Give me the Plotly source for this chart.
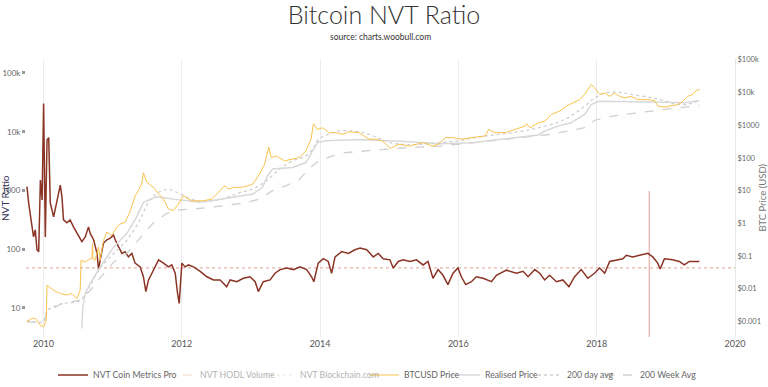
import plotly.graph_objects as go

# ---------------- data ----------------
nvt_dates = ["2009-10-06","2009-10-15","2009-11-02","2009-11-10","2009-11-19","2009-11-28","2009-12-07","2009-12-16","2009-12-25",
"2010-01-02","2010-01-11","2010-01-20","2010-01-29","2010-02-06","2010-02-24","2010-03-04","2010-03-22","2010-03-31","2010-04-09",
"2010-04-17","2010-05-05","2010-05-22","2010-06-09","2010-06-27","2010-07-14","2010-07-23","2010-08-10","2010-08-27","2010-09-05",
"2010-09-23","2010-10-11","2010-10-19","2010-10-28","2010-11-14","2010-12-02","2010-12-20","2011-01-06","2011-01-15","2011-02-02",
"2011-02-20","2011-03-08","2011-03-26","2011-04-13","2011-04-30","2011-05-27","2011-06-13","2011-06-26","2011-07-10","2011-07-28",
"2011-08-14","2011-09-01","2011-09-27","2011-10-23","2011-11-10","2011-11-28","2011-12-10","2011-12-19","2012-01-02","2012-01-19",
"2012-02-06","2012-03-04","2012-04-08","2012-05-13","2012-06-17","2012-07-22","2012-08-26","2012-09-13","2012-10-18","2012-11-22",
"2012-12-27","2013-01-23","2013-02-09","2013-03-07","2013-04-12","2013-05-08","2013-06-04","2013-07-09","2013-08-13","2013-09-17",
"2013-10-22","2013-11-17","2013-11-29","2013-12-22","2014-01-18","2014-02-13","2014-03-03","2014-03-21","2014-04-25","2014-05-30",
"2014-07-04","2014-07-31","2014-09-04","2014-10-09","2014-11-04","2014-11-30","2015-01-05","2015-01-22","2015-02-18","2015-03-16",
"2015-04-20","2015-05-25","2015-06-29","2015-07-25","2015-08-20","2015-09-16","2015-10-12","2015-11-07","2015-12-04","2015-12-30",
"2016-01-17","2016-02-09","2016-03-10","2016-04-05","2016-05-11","2016-06-24","2016-07-20","2016-09-11","2016-11-03","2016-12-08",
"2017-01-03","2017-02-08","2017-03-06","2017-04-01","2017-04-27","2017-06-02","2017-07-06","2017-08-07","2017-09-06","2017-10-11",
"2017-11-15","2017-12-20","2018-01-16","2018-02-12","2018-03-10","2018-04-14","2018-05-19","2018-06-06","2018-07-10","2018-08-15",
"2018-09-28","2018-10-24","2018-11-19","2018-12-02","2018-12-24","2019-02-06","2019-03-13","2019-04-08","2019-05-05","2019-05-31",
"2019-06-27"]
nvt_values = [1160,617,240,162,214,98,91,1510,690,
30200,162,7240,7940,617,355,468,891,1230,776,
316,282,316,240,186,145,135,162,240,186,
145,85,45,66,126,145,155,174,145,110,
85,91,74,85,58,50,34,19,30,39,
50,66,58,50,54,39,18,12,58,50,
54,50,42,34,30,30,23,30,28,32,
34,28,19,28,30,39,45,48,45,50,
45,34,28,58,69,62,39,74,91,85,
98,105,98,74,85,69,66,48,62,66,
62,66,54,62,32,45,36,25,39,48,
34,25,28,34,32,28,36,44,39,42,
34,45,39,30,36,28,30,23,34,45,
32,39,48,39,62,66,69,79,74,79,
85,74,58,46,69,66,62,54,62,62,
62]

price_dates = ["2009-10-06","2009-11-02","2009-11-19","2009-12-16","2010-01-02","2010-01-16","2010-01-20","2010-02-24","2010-03-31",
"2010-05-05","2010-05-31","2010-06-27","2010-07-14","2010-07-19","2010-08-10","2010-09-05","2010-09-14","2010-09-17","2010-09-20",
"2010-09-30","2010-10-19","2010-10-28","2010-11-14","2010-12-02","2010-12-28","2011-01-23","2011-02-09","2011-03-08","2011-04-02",
"2011-04-30","2011-05-17","2011-06-04","2011-06-13","2011-07-01","2011-08-05","2011-09-01","2011-09-27","2011-10-23","2011-11-18",
"2011-12-15","2012-01-10","2012-02-23","2012-04-24","2012-06-07","2012-07-12","2012-08-16","2012-09-02","2012-10-07","2012-11-11",
"2012-12-16","2013-01-11","2013-02-15","2013-03-14","2013-04-05","2013-04-18","2013-05-14","2013-06-27","2013-08-01","2013-09-13",
"2013-10-18","2013-11-14","2013-11-27","2013-12-18","2014-01-14","2014-02-18","2014-03-25","2014-04-29","2014-06-03","2014-07-25",
"2014-09-16","2014-10-21","2014-11-25","2015-01-08","2015-02-21","2015-04-14","2015-07-02","2015-08-15","2015-09-19","2015-10-24",
"2015-11-28","2016-01-20","2016-03-13","2016-05-22","2016-06-09","2016-07-13","2016-09-04","2016-10-27","2016-12-18","2016-12-27",
"2017-01-13","2017-02-26","2017-04-02","2017-05-07","2017-06-20","2017-07-24","2017-08-29","2017-10-03","2017-10-29","2017-11-15",
"2017-12-03","2017-12-21","2018-01-16","2018-02-12","2018-03-10","2018-04-05","2018-05-02","2018-05-28","2018-07-02","2018-08-06",
"2018-09-28","2018-11-02","2018-11-20","2018-12-25","2019-01-29","2019-03-05","2019-04-01","2019-04-27","2019-05-24","2019-06-10",
"2019-06-28"]
price_values = [0.001,0.00126,0.00126,0.00078,0.00069,0.0011,0.0129,0.0091,0.0072,
0.0065,0.0072,0.005,0.0091,0.074,0.066,0.083,0.083,0.245,0.083,
0.074,0.186,0.074,0.30,0.54,0.43,0.76,0.95,1.07,2.2,
6.9,10,16,35,18,12.6,7.9,5.5,2.75,2.45,
3.9,6.9,4.9,4.9,5.5,8.7,14,11.2,12.6,12.6,
14,16,32,65,214,102,115,81,91,102,
162,372,1096,741,832,589,589,525,631,589,
372,372,331,195,263,229,295,229,263,417,
417,372,417,468,741,589,589,741,933,1096,
832,1175,1318,2138,2692,3802,4786,6026,8710,12300,
17400,13800,8710,9550,7590,9550,7590,6760,7590,6026,
6026,5620,3800,3550,3800,4260,5370,7590,8710,11500,
12300]

realised_dates = ["2010-07-23","2010-07-28","2010-08-10","2010-09-05","2010-10-28","2011-01-06","2011-03-16","2011-05-08","2011-06-13",
"2011-08-22","2011-11-18","2012-04-08","2012-08-26","2013-01-11","2013-03-03","2013-03-29","2013-04-25","2013-08-08","2013-10-18",
"2013-11-22","2013-12-18","2014-02-01","2014-07-25","2015-04-01","2015-09-22","2016-03-15","2016-09-04","2017-02-26","2017-04-02",
"2017-06-10","2017-08-18","2017-10-29","2017-12-03","2018-01-08","2018-10-23","2019-04-10","2019-06-27"]
realised_values = [0.00062,0.0028,0.0072,0.0145,0.047,0.186,0.48,1.55,4.4,
6.5,5.5,4.4,5.9,7.9,12.6,28,46,51,72,
162,295,331,363,316,269,288,372,501,661,
933,1175,2138,4266,5370,5130,4790,5620]

ma200d_dates = ["2009-10-06","2010-01-02","2010-01-20","2010-03-31","2010-07-14","2010-09-05","2010-10-28","2011-01-06","2011-03-16",
"2011-05-24","2011-07-15","2011-09-07","2011-10-29","2011-12-21","2012-02-11","2012-04-08","2012-06-17","2012-08-26","2012-11-02",
"2013-01-11","2013-03-23","2013-06-04","2013-08-08","2013-10-18","2013-11-22","2013-12-26","2014-02-18","2014-04-08","2014-06-17",
"2014-08-26","2014-11-04","2015-01-12","2015-03-23","2015-06-01","2015-09-16","2015-12-30","2016-03-13","2016-06-09","2016-09-04",
"2016-12-08","2017-02-26","2017-06-10","2017-08-18","2017-10-29","2017-12-21","2018-02-12","2018-04-22","2018-07-02","2018-10-23",
"2018-12-31","2019-03-05","2019-04-27","2019-06-27"]
ma200d_values = [0.0011,0.001,0.0021,0.0034,0.0045,0.013,0.043,0.12,0.30,
1.23,5.0,9.3,10.7,8.1,5.9,4.7,4.9,6.2,8.7,
11.2,20,46,81,115,186,380,537,660,660,
575,407,288,257,257,288,331,400,479,550,
660,832,1230,1900,3800,6760,9550,10200,8710,6760,
5370,4260,4370,5620]

ma200w_dates = ["2009-10-06","2010-01-02","2010-01-20","2010-03-31","2010-07-14","2010-09-05","2010-10-28","2011-01-06","2011-03-16",
"2011-05-24","2011-08-05","2011-10-13","2011-12-21","2012-03-04","2012-08-26","2012-12-09","2013-02-15","2013-04-25","2013-07-04",
"2013-09-13","2013-11-22","2013-12-26","2014-03-08","2014-05-16","2014-07-25","2014-10-02","2015-04-01","2015-09-22","2016-03-13",
"2016-09-04","2016-11-21","2017-05-07","2017-10-29","2017-12-21","2018-03-27","2018-08-08","2019-02-05","2019-06-27"]
ma200w_values = [0.00096,0.00096,0.0019,0.0034,0.0045,0.009,0.022,0.065,0.12,
0.35,1.05,2.0,2.6,2.75,3.5,4.4,5.5,10,14,
22,58,81,115,145,160,170,204,229,288,
372,398,525,832,1413,1900,2400,3240,3980]

ref_level_dates = ["2009-10-01", "2020-01-01"]
ref_level_values = [48, 48]

spike_dates = ["2018-10-05", "2018-10-05"]
spike_values = [1, 980]

# hidden (legend-only) series in the reference: no values shown
hodl_dates, hodl_values = ["2019-06-27"], [None]
bc_dates, bc_values = ["2019-06-27"], [None]

x_ticks = ["2010-01-01", "2012-01-01", "2014-01-01", "2016-01-01", "2018-01-01", "2020-01-01"]
left_tickvals = [10, 100, 1000, 10000, 100000]
left_ticktext = ["10", "100", "1000", "10k", "100k"]
right_tickvals = [0.001, 0.01, 0.1, 1, 10, 100, 1000, 10000, 100000]
right_ticktext = ["$0.001", "$0.01", "$0.1", "$1", "$10", "$100", "$1000", "$10k", "$100k"]

# ---------------- figure ----------------
FONT = "Lato, 'Open Sans', sans-serif"
fig = go.Figure()

fig.add_trace(go.Scatter(x=ref_level_dates, y=ref_level_values, mode="lines", yaxis="y",
                         line=dict(color="#e7b3ac", width=1.3, dash="dot"), showlegend=False, hoverinfo="skip"))
fig.add_trace(go.Scatter(x=spike_dates, y=spike_values, mode="lines", yaxis="y",
                         line=dict(color="#e99a9a", width=1), showlegend=False, hoverinfo="skip"))

fig.add_trace(go.Scatter(x=ma200w_dates, y=ma200w_values, name="200 Week Avg", yaxis="y2", mode="lines",
                         line=dict(color="#cfcfcf", width=1.3, dash="dash"), legend="legend7"))
fig.add_trace(go.Scatter(x=ma200d_dates, y=ma200d_values, name="200 day avg", yaxis="y2", mode="lines",
                         line=dict(color="#cfcfcf", width=1.3, dash="dot", shape="spline"), legend="legend6"))
fig.add_trace(go.Scatter(x=realised_dates, y=realised_values, name="Realised Price", yaxis="y2", mode="lines",
                         line=dict(color="#d8d8d8", width=1.5), legend="legend5"))
fig.add_trace(go.Scatter(x=price_dates, y=price_values, name="BTCUSD Price", yaxis="y2", mode="lines",
                         line=dict(color="#f9c24c", width=1), legend="legend4"))
fig.add_trace(go.Scatter(x=bc_dates, y=bc_values, name="NVT Blockchain.com", yaxis="y", mode="lines",
                         line=dict(color="#f3c9a0", width=1, dash="dot"), visible="legendonly", legend="legend3"))
fig.add_trace(go.Scatter(x=hodl_dates, y=hodl_values, name="NVT HODL Volume", yaxis="y", mode="lines",
                         line=dict(color="#eeb09a", width=1, dash="dash"), visible="legendonly", legend="legend2"))
fig.add_trace(go.Scatter(x=nvt_dates, y=nvt_values, name="NVT Coin Metrics Pro", yaxis="y", mode="lines",
                         line=dict(color="#8b3425", width=1.5), legend="legend"))

# one legend box per entry so the entries sit on a single row like the original
legend_left_px = [53, 160, 260, 364, 445, 527, 600]
FIG_W, FIG_H = 768, 387
legend_style = dict(orientation="h", xref="container", yref="container", xanchor="left",
                    y=1 - 375 / FIG_H, yanchor="middle",
                    font=dict(family=FONT, size=8.7, color="#666666"), itemwidth=30,
                    bgcolor="rgba(0,0,0,0)", borderwidth=0)
legends = {}
for i, px in enumerate(legend_left_px):
    key = "legend" if i == 0 else f"legend{i+1}"
    legends[key] = dict(legend_style, x=px / FIG_W)

fig.update_layout(
    width=FIG_W, height=FIG_H,
    margin=dict(l=26, r=33, t=59, b=50),
    paper_bgcolor="white", plot_bgcolor="white",
    font=dict(family=FONT, color="#666666", size=9),
    title=dict(text="Bitcoin NVT Ratio", x=0.5, xanchor="center", y=0.96, yanchor="middle",
               font=dict(family=FONT, size=25, color="#333333", weight=300)),
    showlegend=True,
    xaxis=dict(type="date", range=["2009-10-01", "2020-01-01"], tickvals=x_ticks, tickformat="%Y",
               showgrid=True, gridcolor="#ececec", gridwidth=1, zeroline=False, showline=False,
               ticks="", tickfont=dict(size=9, color="#555555")),
    yaxis=dict(type="log", range=[0.506, 5.238], tickvals=left_tickvals, ticktext=left_ticktext,
               showgrid=False, zeroline=False, showline=False, ticks="outside", ticklen=3, tickwidth=3,
               tickcolor="#9a9a9a", tickfont=dict(size=8, color="#666666"), automargin=False),
    yaxis2=dict(type="log", range=[-3.47, 5.02], overlaying="y", side="right", tickvals=right_tickvals,
                ticktext=right_ticktext, showgrid=False, zeroline=False, showline=True, linecolor="#e6e6e6",
                ticks="", tickfont=dict(size=7.5, color="#666666"), automargin=False),
    hovermode=False,
    annotations=[
        dict(text="source: charts.woobull.com", xref="paper", yref="paper", x=0.5, y=1.079,
             xanchor="center", yanchor="middle", showarrow=False,
             font=dict(family=FONT, size=8.5, color="#333333")),
        dict(text="NVT Ratio", xref="paper", yref="paper", x=-0.0296, y=0.5, textangle=-90,
             xanchor="center", yanchor="middle", showarrow=False,
             font=dict(family=FONT, size=10, color="#333355")),
        dict(text="BTC Price (USD)", xref="paper", yref="paper", x=1.0375, y=0.5, textangle=-90,
             xanchor="center", yanchor="middle", showarrow=False,
             font=dict(family=FONT, size=9.5, color="#777777")),
    ],
    **legends,
)

fig.write_html("out.html", config={"displayModeBar": False},
               post_script="document.body.style.margin='0';document.body.style.overflow='hidden';")
